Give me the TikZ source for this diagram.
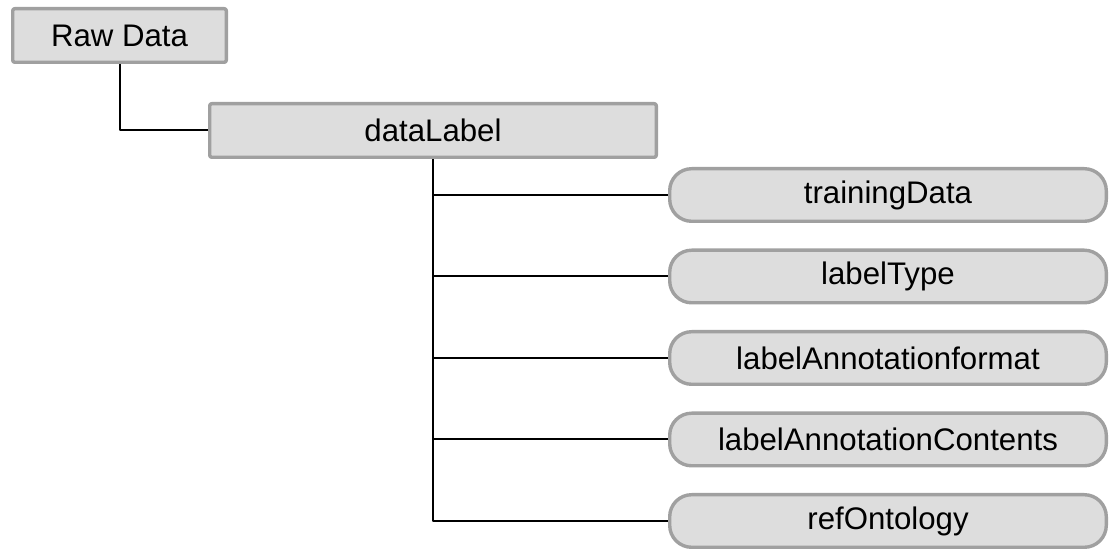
\documentclass[tikz,border=0pt]{standalone}
\usepackage{fontspec}
\setmainfont{Liberation Sans}
\definecolor{boxfill}{HTML}{DDDDDD}
\definecolor{boxline}{HTML}{A0A0A0}
\begin{document}
\begin{tikzpicture}[x=0.5pt,y=-0.5pt, font=\fontsize{15.6}{18}\selectfont, line join=round,
  sqbox/.style={draw=boxline, fill=boxfill, line width=1.7pt, rounded corners=1pt, minimum height=26.8pt, inner sep=0pt},
  pillbox/.style={draw=boxline, fill=boxfill, line width=1.7pt, rounded corners=11pt, minimum width=218.3pt, minimum height=26.3pt, inner sep=0pt},
  link/.style={line width=1pt}]
\useasboundingbox (0,0) rectangle (1110,550);
%\draw[color=gray!50,dashed] (0,0) grid[step=50] (1110,550);
\node[sqbox, minimum width=106.8pt] (raw) at (119.5,35.5) {Raw Data};
\node[sqbox, minimum width=223.3pt] (data) at (433,130.5) {dataLabel};
\foreach \n/\t [count=\i from 0] in {train/trainingData, type/labelType, format/labelAnnotationformat, contents/labelAnnotationContents, ref/refOntology}
  \node[pillbox] (\n) at (888,195+81.5*\i) {\t};
\draw[link] (raw.south) |- (data.west);
\draw[link] (data.south) |- (ref.west);
\foreach \n in {train,type,format,contents} \draw[link] (data.south |- \n.west) -- (\n.west);
\end{tikzpicture}
\end{document}
